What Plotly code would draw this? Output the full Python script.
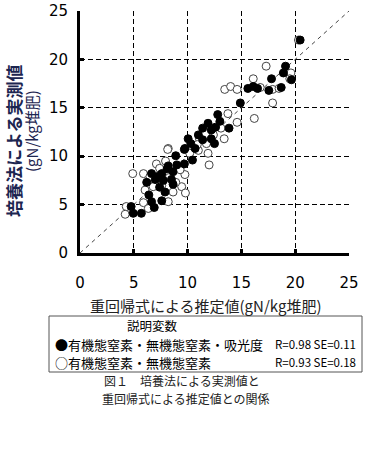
import plotly.graph_objects as go

# ---- data ----
filled_x = [20.46, 19.1, 18.9, 19.65, 17.8, 18.7, 17.55, 16.1, 15.6, 16.5, 14.9, 12.8, 13.0, 13.85,
            11.9, 11.4, 12.2, 10.05, 11.4, 12.2, 12.5, 9.75, 10.7, 8.9, 9.7, 10.45, 9.7, 9.0, 8.2,
            8.65, 7.6, 6.65, 6.2, 7.0, 7.75, 8.5, 8.65, 7.4, 7.9, 6.4, 6.65, 7.6, 6.9, 4.75, 4.95,
            5.7, 11.0, 12.6, 10.3, 7.2, 8.1]
filled_y = [22.0, 19.3, 18.6, 17.9, 18.0, 17.1, 16.8, 17.2, 17.0, 17.0, 15.5, 14.3, 13.6, 12.9,
            13.4, 12.9, 12.7, 11.8, 11.7, 11.8, 11.3, 10.8, 10.8, 10.05, 10.7, 9.6, 9.2, 9.1, 9.0,
            8.4, 8.2, 8.2, 7.3, 7.6, 7.5, 7.6, 7.1, 6.8, 6.3, 6.0, 5.3, 5.4, 4.7, 4.8, 4.1,
            4.1, 12.2, 13.0, 11.3, 7.9, 8.7]
open_x = [20.3, 17.3, 16.1, 19.6, 19.5, 13.45, 14.0, 14.6, 16.75, 17.9, 18.5, 17.9, 16.2, 14.6,
          13.75, 13.1, 13.4, 11.1, 11.75, 8.2, 4.9, 5.9, 7.1, 7.95, 8.15, 9.75, 9.45, 9.8, 8.65,
          8.2, 5.9, 6.35, 4.3, 4.2, 11.9, 12.0, 7.0, 6.05, 6.8, 8.3, 9.3, 7.4, 10.2, 11.0, 12.4,
          6.5, 7.6, 8.9, 10.9]
open_y = [22.0, 19.3, 18.0, 18.6, 18.0, 16.9, 17.2, 16.9, 17.1, 16.9, 17.0, 15.5, 13.9, 13.5,
          14.4, 12.9, 11.8, 11.8, 11.3, 10.8, 8.2, 8.2, 9.2, 9.5, 10.7, 8.1, 6.85, 6.2, 6.3,
          5.3, 5.2, 4.6, 4.8, 4.0, 10.3, 9.1, 7.4, 6.5, 6.85, 7.8, 8.6, 8.75, 10.3, 10.6, 12.2,
          7.9, 7.0, 7.3, 11.2]
diag = [0, 25]
tick_vals = [0, 5, 10, 15, 20, 25]
tick_text = ["0", "5", "10", "15", "20", "25"]

x_title = "重回帰式による推定値(gN/kg堆肥)"
y_title1 = "培養法による実測値"
y_title2 = "(gN/kg堆肥)"
legend_head = "説明変数"
legend1_left = "●有機態窒素・無機態窒素・吸光度"
legend1_right = "R=0.98 SE=0.11"
legend2_left = "○有機態窒素・無機態窒素"
legend2_right = "R=0.93 SE=0.18"
caption1 = "図１　培養法による実測値と"
caption2 = "重回帰式による推定値との関係"

# ---- layout geometry ----
W, H = 366, 458
L, R, T, B = 80, 17, 11, 205
PW, PH = W - L - R, H - T - B
JP = "Noto Sans CJK JP"


def px(xp):
    return (xp - L) / PW


def py(yp):
    return (H - B - yp) / PH


fig = go.Figure()
fig.add_trace(go.Scatter(x=diag, y=diag, mode="lines",
                         line=dict(color="#444444", width=1, dash="4px,4px"),
                         hoverinfo="skip", showlegend=False))
fig.add_trace(go.Scatter(x=open_x, y=open_y, mode="markers",
                         marker=dict(size=8, color="white", line=dict(color="#444444", width=1)),
                         showlegend=False))
fig.add_trace(go.Scatter(x=filled_x, y=filled_y, mode="markers",
                         marker=dict(size=8, color="black", line=dict(color="black", width=1)),
                         showlegend=False))

axis_common = dict(range=[0, 25], tickvals=tick_vals, ticktext=tick_text,
                   showgrid=True, gridcolor="black", gridwidth=1, griddash="5px,3px",
                   showline=True, linecolor="black", linewidth=3,
                   ticks="inside", ticklen=4, tickwidth=3, tickcolor="black",
                   zeroline=False, mirror=False, automargin=False,
                   tickfont=dict(family="DejaVu Sans", size=15, color="black"))

fig.update_xaxes(**axis_common, ticklabelstandoff=14)
fig.update_yaxes(**axis_common, ticklabelstandoff=6)

ann = []
ann.append(dict(x=px(205), y=py(305), text=x_title, font=dict(family=JP, size=15, color="#222222")))
ann.append(dict(x=px(13), y=py(141), text="<b>" + y_title1 + "</b>", textangle=-90,
                font=dict(family=JP, size=17, color="#1c2550")))
ann.append(dict(x=px(31), y=py(131), text=y_title2, textangle=-90,
                font=dict(family=JP, size=15, color="#1c2550")))
ann.append(dict(x=px(152), y=py(325), text=legend_head, font=dict(family=JP, size=12.5, color="black")))
ann.append(dict(x=px(53), y=py(344), text=legend1_left, xanchor="left",
                font=dict(family=JP, size=13, color="black")))
ann.append(dict(x=px(358), y=py(344), text=legend1_right, xanchor="right",
                font=dict(family=JP, size=11.5, color="black")))
ann.append(dict(x=px(53), y=py(362), text=legend2_left, xanchor="left",
                font=dict(family=JP, size=13, color="black")))
ann.append(dict(x=px(358), y=py(362), text=legend2_right, xanchor="right",
                font=dict(family=JP, size=11.5, color="black")))
ann.append(dict(x=px(102), y=py(380), text=caption1, xanchor="left",
                font=dict(family=JP, size=12, color="#222222")))
ann.append(dict(x=px(100), y=py(398), text=caption2, xanchor="left",
                font=dict(family=JP, size=12, color="#222222")))
for a in ann:
    a.setdefault("xanchor", "center")
    a.update(xref="paper", yref="paper", yanchor="middle", showarrow=False)

fig.update_layout(
    width=W, height=H, margin=dict(l=L, r=R, t=T, b=B),
    plot_bgcolor="white", paper_bgcolor="white",
    annotations=ann,
    shapes=[dict(type="rect", xref="paper", yref="paper",
                 x0=px(49), x1=px(362), y0=py(316), y1=py(372),
                 line=dict(color="#555555", width=1))],
)

fig.write_html("out.html", config={"displayModeBar": False},
               post_script="document.body.style.margin='0';document.body.style.overflow='hidden';")
